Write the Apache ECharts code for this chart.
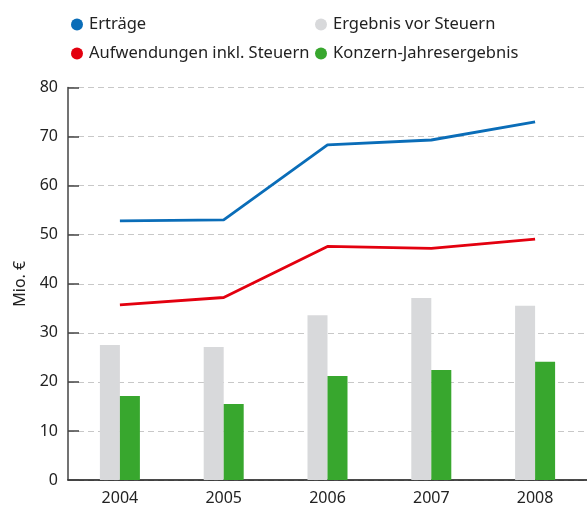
<!DOCTYPE html>
<html>
<head>
<meta charset="utf-8">
<script src="https://cdn.jsdelivr.net/npm/echarts@6/dist/echarts.min.js"></script>
<style>
  html, body { margin: 0; padding: 0; background: #fff; }
  #chart { width: 587px; height: 507px; }
</style>
</head>
<body>
<div id="chart"></div>
<script>
// Daten (Mio. €)
const years = ["2004", "2005", "2006", "2007", "2008"];
const ertraege = [52.8, 53.0, 68.3, 69.3, 73.0];
const aufwendungen = [35.7, 37.2, 47.6, 47.2, 49.1];
const ergebnisVorSteuern = [27.5, 27.1, 33.6, 37.1, 35.5];
const jahresergebnis = [17.1, 15.5, 21.2, 22.4, 24.1];

const font = "Noto Sans";
const textColor = "#222";

let myChart = echarts.init(document.getElementById("chart"));

const options = {
  animation: false,
  textStyle: { fontFamily: font },
  legend: [
    {
      orient: "vertical",
      left: 66,
      top: 11,
      itemGap: 12,
      itemWidth: 12,
      itemHeight: 12,
      icon: "circle",
      textStyle: { fontSize: 16.5, color: textColor, fontFamily: font, padding: [0, 0, 0, 1] },
      data: ["Erträge", "Aufwendungen inkl. Steuern"]
    },
    {
      orient: "vertical",
      left: 310,
      top: 11,
      itemGap: 12,
      itemWidth: 12,
      itemHeight: 12,
      icon: "circle",
      textStyle: { fontSize: 16.5, color: textColor, fontFamily: font, padding: [0, 0, 0, 1] },
      data: ["Ergebnis vor Steuern", "Konzern-Jahresergebnis"]
    }
  ],
  grid: {
    left: 68,
    right: 0,
    top: 87.5,
    bottom: 27,
    containLabel: false
  },
  xAxis: {
    type: "category",
    data: years,
    boundaryGap: true,
    axisLine: { lineStyle: { color: "#111", width: 1.5 } },
    axisTick: { show: false },
    axisLabel: { fontSize: 16, color: textColor, margin: 10, fontFamily: font }
  },
  yAxis: {
    type: "value",
    min: 0,
    max: 80,
    interval: 10,
    name: "Mio. €",
    nameLocation: "middle",
    nameGap: 39,
    nameTextStyle: { fontSize: 16, color: textColor, fontFamily: font },
    axisLine: { show: true, lineStyle: { color: "#444", width: 1.5 } },
    axisTick: { show: true, inside: true, length: 11, lineStyle: { color: "#444", width: 1.5 } },
    axisLabel: { fontSize: 16, color: textColor, margin: 10, fontFamily: font },
    splitLine: { lineStyle: { color: "#c8c8c8", type: [6, 4], width: 1 } }
  },
  series: [
    {
      name: "Erträge",
      type: "line",
      data: ertraege,
      showSymbol: false,
      symbol: "circle",
      itemStyle: { color: "#0a6db8" },
      lineStyle: { color: "#0a6db8", width: 2.8 },
      z: 5
    },
    {
      name: "Aufwendungen inkl. Steuern",
      type: "line",
      data: aufwendungen,
      showSymbol: false,
      symbol: "circle",
      itemStyle: { color: "#e3000f" },
      lineStyle: { color: "#e3000f", width: 2.8 },
      z: 5
    },
    {
      name: "Ergebnis vor Steuern",
      type: "bar",
      data: ergebnisVorSteuern,
      barWidth: 20,
      barGap: "0%",
      itemStyle: { color: "#d8d9db" }
    },
    {
      name: "Konzern-Jahresergebnis",
      type: "bar",
      data: jahresergebnis,
      barWidth: 20,
      barGap: "0%",
      itemStyle: { color: "#38a72e" }
    }
  ]
};

myChart.setOption(options);
</script>
</body>
</html>
